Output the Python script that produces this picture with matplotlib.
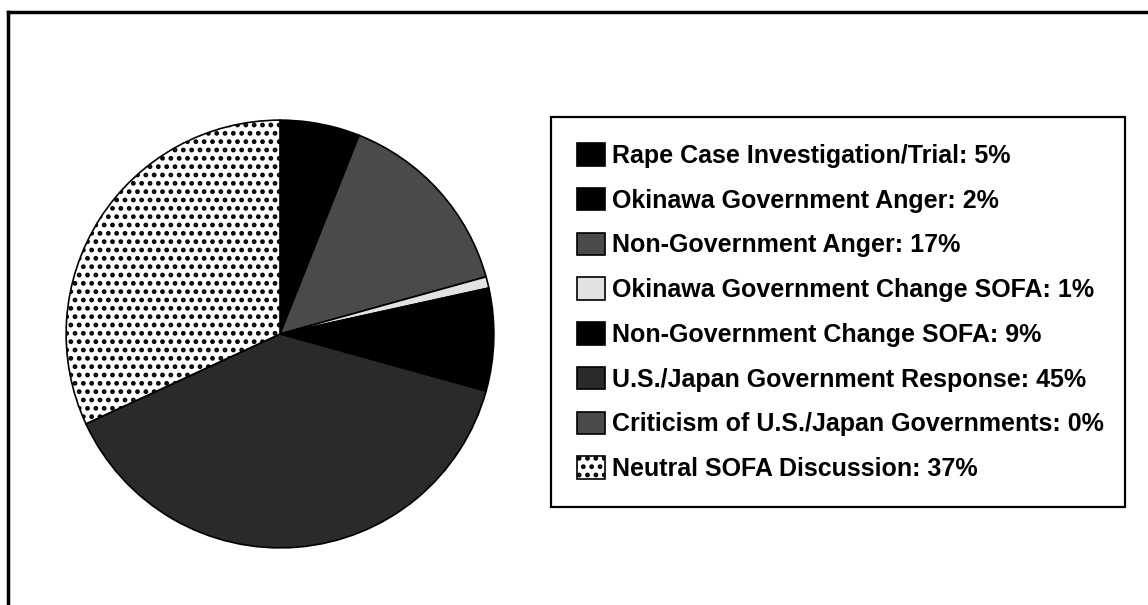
import matplotlib
matplotlib.use("Agg")
import matplotlib.pyplot as plt
from matplotlib.lines import Line2D

# share of coverage (the printed percentages, they add to 116)
labels = ["Rape Case Investigation/Trial: 5%",
          "Okinawa Government Anger: 2%",
          "Non-Government Anger: 17%",
          "Okinawa Government Change SOFA: 1%",
          "Non-Government Change SOFA: 9%",
          "U.S./Japan Government Response: 45%",
          "Criticism of U.S./Japan Governments: 0%",
          "Neutral SOFA Discussion: 37%"]
values = [5, 2, 17, 1, 9, 45, 0, 37]

colors = ["#000000", "#000000", "#4a4a4a", "#e2e2e2",
          "#000000", "#2a2a2a", "#4a4a4a", "#ffffff"]
hatches = [None, None, None, None, None, None, None, ".."]

plt.rcParams['font.family'] = ['Liberation Sans', 'DejaVu Sans']
plt.rcParams['hatch.linewidth'] = 2.2

W, H = 1148, 605
fig = plt.figure(figsize=(W / 100, H / 100), dpi=100)

# pie centre (280, 334) px, radius 216 px
cx, cy, r = 280, 334, 216
ax = fig.add_axes([(cx - r) / W, (H - cy - r) / H, 2 * r / W, 2 * r / H])
wedges, _ = ax.pie(values, colors=colors, startangle=90, counterclock=False,
                   wedgeprops=dict(edgecolor="black", linewidth=1.2))
for w, h in zip(wedges, hatches):
    if h:
        w.set_hatch(h)
ax.set_xlim(-1.01, 1.01)
ax.set_ylim(-1.01, 1.01)
ax.axis("off")

leg = fig.legend(wedges, labels,
                 loc="upper left",
                 bbox_to_anchor=(551 / W, 1 - 117 / H, 574 / W, 0),
                 mode="expand",
                 prop=dict(size=18, weight="bold"),
                 fancybox=False, framealpha=1, edgecolor="black",
                 handlelength=1.1, handleheight=1.0, handletextpad=0.3,
                 labelspacing=0.8, borderpad=1.05, borderaxespad=0)
leg.get_frame().set_linewidth(1.6)

# outer frame, only top and left edges are in the picture
fig.add_artist(Line2D([8 / W, 1], [1 - 12 / H, 1 - 12 / H], color="black", lw=2.5))
fig.add_artist(Line2D([8 / W, 8 / W], [0, 1 - 12 / H], color="black", lw=2.5))

fig.savefig("out.png", dpi=100, facecolor="white")
